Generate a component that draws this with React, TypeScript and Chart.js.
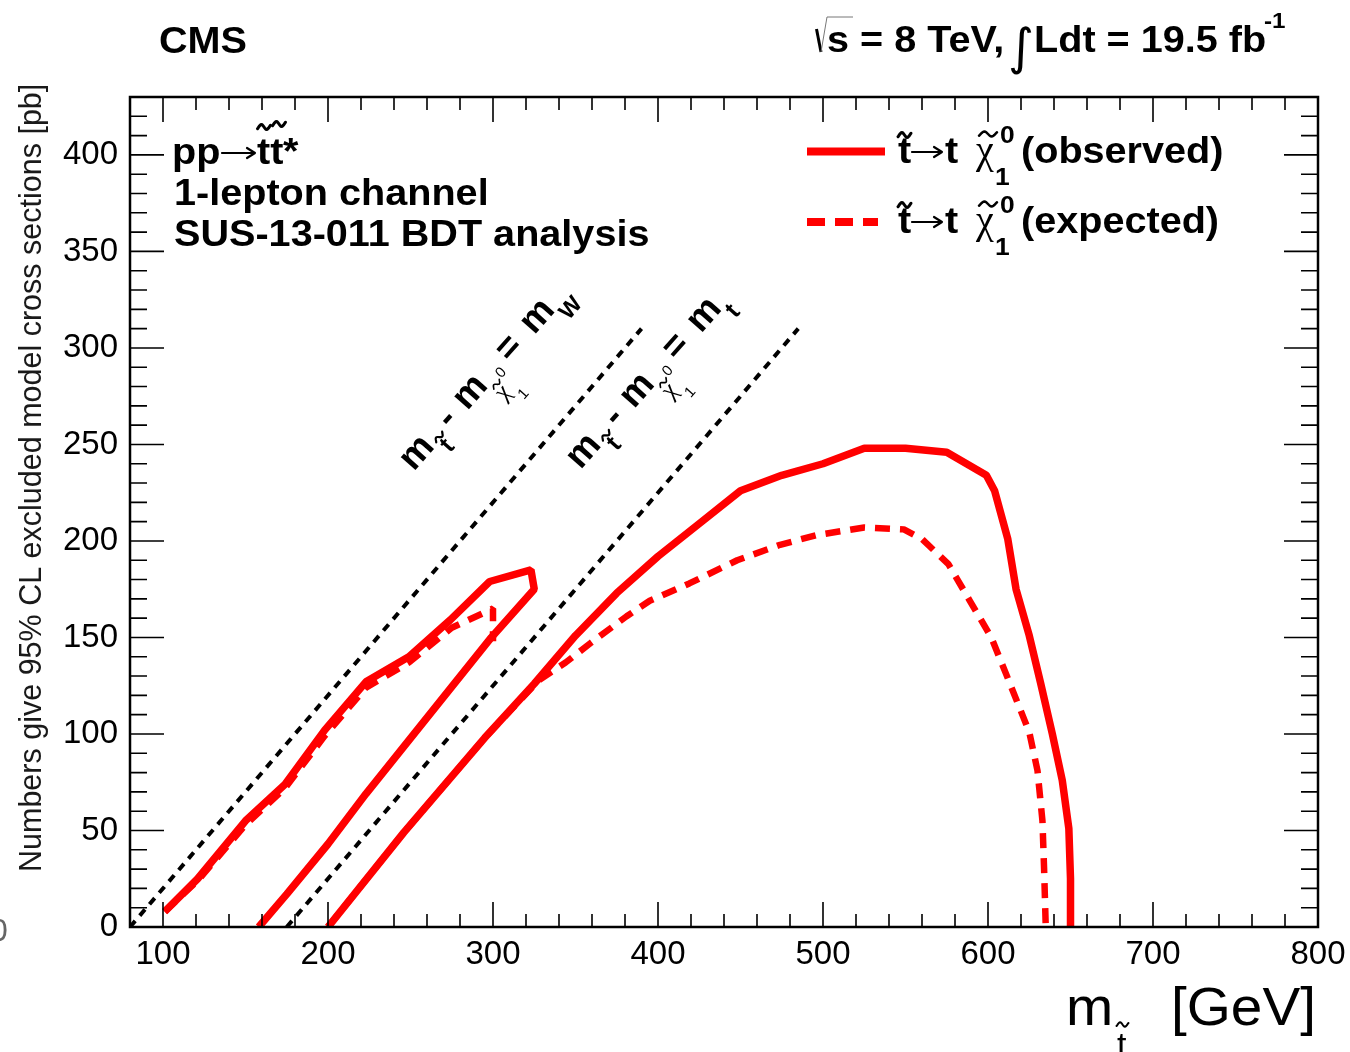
import React, { useEffect, useRef } from 'react';
import { Chart, registerables } from 'chart.js';

Chart.register(...registerables);

// ---------------- data ----------------
const xTickValues = [100, 200, 300, 400, 500, 600, 700, 800];
const yTickValues = [0, 50, 100, 150, 200, 250, 300, 350, 400];
const xRange = [80, 800];
const yRange = [0, 430];
const xMinorStep = 20;
const yMinorStep = 10;

// observed exclusion contour (two pieces)
const obsLeftX = [101, 121, 150, 174, 198, 223, 249, 274, 298, 323, 325, 299, 223, 200, 175, 158];
const obsLeftY = [8, 25, 55, 74, 102, 127, 140, 159, 179, 185, 175, 150, 69, 43, 17, 0];
const obsRightX = [200, 246, 295, 325, 350, 375, 400, 425, 450, 475, 500, 525, 550, 575, 599, 604, 612, 617, 625, 632, 639, 645, 649, 650, 650];
const obsRightY = [0, 49, 98, 126, 151, 173, 192, 209, 226, 234, 240, 248, 248, 246, 234, 226, 201, 175, 151, 126, 100, 76, 51, 25, 0];

// expected exclusion contour (two pieces)
const expLeftX = [101, 121, 150, 174, 198, 223, 249, 275, 300, 300];
const expLeftY = [8, 24, 53, 72, 99, 124, 137, 155, 165, 148];
const expRightX = [200, 246, 295, 328, 344, 359, 381, 395, 419, 448, 474, 496, 525, 549, 560, 576, 589, 602, 611, 618, 625, 630, 633, 634, 635];
const expRightY = [0, 49, 98, 128, 137, 147, 161, 169, 178, 190, 198, 203, 207, 206, 201, 188, 169, 150, 131, 116, 101, 81, 55, 30, 0];

// kinematic boundary lines
const mWLineX = [80, 390];
const mWLineY = [0, 310];
const mTopLineX = [175, 485];
const mTopLineY = [0, 310];

const RED = '#ff0000';
const SANS = '"Liberation Sans", Arial, Helvetica, sans-serif';
const SERIF = '"Liberation Serif", "Times New Roman", serif';
const DEJAVU = '"DejaVu Sans", sans-serif';
const SX = 1.1;

const toPoints = (xs: number[], ys: number[]) => xs.map((x, i) => ({ x, y: ys[i] }));

type Piece = { t: string; x: number; y: number; size: number; bold?: boolean; fam?: string; sx?: number; color?: string };

function drawPiece(ctx: CanvasRenderingContext2D, p: Piece) {
  ctx.save();
  ctx.translate(p.x, p.y);
  ctx.scale(p.sx ?? 1, 1);
  ctx.font = `${p.bold ? 'bold ' : ''}${p.size}px ${p.fam ?? SANS}`;
  ctx.fillStyle = p.color ?? '#000';
  ctx.textBaseline = 'alphabetic';
  ctx.textAlign = 'left';
  ctx.fillText(p.t, 0, 0);
  ctx.restore();
}

function drawTilde(ctx: CanvasRenderingContext2D, cx: number, cy: number, w: number, a: number, lw: number) {
  ctx.save();
  ctx.beginPath();
  const n = 20;
  for (let i = 0; i <= n; i++) {
    const t = -0.12 + (1.24 * i) / n;
    const px = cx - w / 2 + w * (i / n);
    const py = cy - a * Math.sin(2 * Math.PI * t);
    if (i === 0) ctx.moveTo(px, py);
    else ctx.lineTo(px, py);
  }
  ctx.strokeStyle = '#000';
  ctx.lineWidth = lw;
  ctx.lineCap = 'round';
  ctx.stroke();
  ctx.restore();
}

function drawArrow(ctx: CanvasRenderingContext2D, x1: number, x2: number, y: number) {
  ctx.save();
  ctx.strokeStyle = '#000';
  ctx.lineWidth = 2.2;
  ctx.lineCap = 'round';
  ctx.lineJoin = 'round';
  ctx.beginPath();
  ctx.moveTo(x1, y);
  ctx.lineTo(x2, y);
  ctx.moveTo(x2 - 8, y - 5);
  ctx.lineTo(x2, y);
  ctx.lineTo(x2 - 8, y + 5);
  ctx.stroke();
  ctx.restore();
}

const framePlugin = {
  id: 'rootFrame',
  afterDatasetsDraw(chart: any) {
    const { ctx, chartArea, scales } = chart;
    const { left, right, top, bottom } = chartArea;
    const xs = scales.x;
    const ys = scales.y;
    ctx.save();
    ctx.strokeStyle = '#000';
    ctx.lineWidth = 1.6;
    for (let v = xRange[0]; v <= xRange[1]; v += xMinorStep) {
      if (v === xRange[0] || v === xRange[1]) continue;
      const px = xs.getPixelForValue(v);
      const len = v % 100 === 0 ? 25 : 13;
      ctx.beginPath();
      ctx.moveTo(px, bottom);
      ctx.lineTo(px, bottom - len);
      ctx.moveTo(px, top);
      ctx.lineTo(px, top + len);
      ctx.stroke();
    }
    for (let v = yRange[0]; v <= yRange[1]; v += yMinorStep) {
      if (v === yRange[0] || v === yRange[1]) continue;
      const py = ys.getPixelForValue(v);
      const len = v % 50 === 0 ? 34 : 17;
      ctx.beginPath();
      ctx.moveTo(left, py);
      ctx.lineTo(left + len, py);
      ctx.moveTo(right, py);
      ctx.lineTo(right - len, py);
      ctx.stroke();
    }
    ctx.lineWidth = 2.5;
    ctx.strokeRect(left, top, right - left, bottom - top);
    ctx.restore();
  },
};

function drawRotLabel(ctx: CanvasRenderingContext2D, ox: number, oy: number, ang: number, last: string, lastSize: number) {
  ctx.save();
  ctx.translate(ox, oy);
  ctx.rotate(ang);
  const pieces: Piece[] = [
    { t: 'm', x: 0, y: 0, size: 37, bold: true },
    { t: 't', x: 38, y: 15, size: 25, bold: true },
    { t: '-', x: 56, y: 0, size: 37, bold: true },
    { t: 'm', x: 81, y: 0, size: 37, bold: true },
    { t: 'χ', x: 113, y: 21, size: 25, fam: SERIF },
    { t: '0', x: 128, y: 4, size: 15 },
    { t: '1', x: 127, y: 35, size: 15 },
    { t: '=', x: 145, y: 0, size: 37, bold: true },
    { t: 'm', x: 182, y: 0, size: 37, bold: true },
    { t: last, x: 216, y: 16, size: lastSize, bold: true },
  ];
  pieces.forEach((p) => drawPiece(ctx, p));
  drawTilde(ctx, 43, -4, 12, 2, 2.2);
  drawTilde(ctx, 120.5, 4, 11, 1.8, 1.6);
  ctx.restore();
}

const textPlugin = {
  id: 'rootTexts',
  afterDraw(chart: any) {
    const ctx: CanvasRenderingContext2D = chart.ctx;
    ctx.save();
    // header
    drawPiece(ctx, { t: 'CMS', x: 159, y: 53, size: 36, bold: true, sx: SX });
    // radical sign
    ctx.save();
    ctx.strokeStyle = '#000';
    ctx.lineCap = 'butt';
    ctx.lineWidth = 3;
    ctx.beginPath();
    ctx.moveTo(816.5, 29);
    ctx.lineTo(821, 52);
    ctx.stroke();
    ctx.lineWidth = 1;
    ctx.strokeStyle = '#777';
    ctx.beginPath();
    ctx.moveTo(821, 52);
    ctx.lineTo(827, 17);
    ctx.lineTo(853, 17);
    ctx.stroke();
    ctx.restore();
    drawPiece(ctx, { t: 's = 8 TeV,', x: 827, y: 52, size: 36, bold: true, sx: SX });
    drawPiece(ctx, { t: '∫', x: 1008, y: 64, size: 50, fam: DEJAVU });
    drawPiece(ctx, { t: 'Ldt = 19.5 fb', x: 1034, y: 52, size: 36, bold: true, sx: SX });
    drawPiece(ctx, { t: '-1', x: 1264, y: 28, size: 22, bold: true, sx: SX });

    // process text
    drawPiece(ctx, { t: 'pp', x: 172, y: 164, size: 36, bold: true, sx: SX });
    drawArrow(ctx, 222, 255, 153);
    drawPiece(ctx, { t: 'tt', x: 257, y: 164, size: 36, bold: true, sx: SX });
    drawPiece(ctx, { t: '*', x: 283, y: 164, size: 36, bold: true, sx: SX });
    drawTilde(ctx, 264, 127, 13, 2.5, 3);
    drawTilde(ctx, 279, 124, 13, 2.5, 3);
    drawPiece(ctx, { t: '1-lepton channel', x: 174, y: 205, size: 36, bold: true, sx: SX });
    drawPiece(ctx, { t: 'SUS-13-011 BDT analysis', x: 174, y: 246, size: 36, bold: true, sx: SX });

    // legend
    ctx.save();
    ctx.strokeStyle = RED;
    ctx.lineWidth = 8;
    ctx.lineCap = 'butt';
    ctx.beginPath();
    ctx.moveTo(807, 151.5);
    ctx.lineTo(885, 151.5);
    ctx.stroke();
    ctx.setLineDash([18, 10]);
    ctx.beginPath();
    ctx.moveTo(807, 222);
    ctx.lineTo(878, 222);
    ctx.stroke();
    ctx.restore();
    const rows: [number, string][] = [
      [163, '(observed)'],
      [233, '(expected)'],
    ];
    rows.forEach(([b, lab]) => {
      drawPiece(ctx, { t: 't', x: 898, y: b, size: 36, bold: true, sx: SX });
      drawTilde(ctx, 904.5, b - 28, 13, 2.5, 3);
      drawArrow(ctx, 912, 942, b - 11);
      drawPiece(ctx, { t: 't', x: 945, y: b, size: 36, bold: true, sx: SX });
      drawPiece(ctx, { t: 'χ', x: 976, y: b, size: 40, fam: SERIF });
      drawTilde(ctx, 988, b - 29, 18, 2.5, 2.5);
      drawPiece(ctx, { t: '0', x: 1000, y: b - 20, size: 24, bold: true, sx: SX });
      drawPiece(ctx, { t: '1', x: 995, y: b + 22, size: 24, bold: true, sx: SX });
      drawPiece(ctx, { t: lab, x: 1021, y: b, size: 36, bold: true, sx: SX });
    });

    // rotated kinematic-line labels
    const ang = (-48.5 * Math.PI) / 180;
    drawRotLabel(ctx, 413.7, 471.9, ang, 'W', 23);
    drawRotLabel(ctx, 580.4, 470.2, ang, 't', 25);

    // x title
    drawPiece(ctx, { t: 'm', x: 1066, y: 1025, size: 54, sx: 1.05 });
    drawPiece(ctx, { t: 't', x: 1117, y: 1056, size: 34 });
    drawTilde(ctx, 1122.5, 1024.5, 12, 2.2, 2);
    drawPiece(ctx, { t: '[GeV]', x: 1171, y: 1025, size: 54, sx: 1.05 });

    // y title
    ctx.save();
    ctx.translate(41, 872);
    ctx.rotate(-Math.PI / 2);
    ctx.font = `30.5px ${SANS}`;
    ctx.fillStyle = '#1a1a1a';
    ctx.textBaseline = 'alphabetic';
    ctx.fillText('Numbers give 95% CL excluded model cross sections [pb]', 0, 0);
    ctx.restore();

    // stray clipped glyph at the left edge
    drawPiece(ctx, { t: '0', x: -10, y: 941, size: 32, color: '#666' });
    ctx.restore();
  },
};

export default function App() {
  const ref = useRef<HTMLCanvasElement>(null);
  useEffect(() => {
    const canvas = ref.current;
    if (!canvas) return;
    const lineBase = { showLine: true, pointRadius: 0, pointHoverRadius: 0, fill: false, borderJoinStyle: 'bevel', borderCapStyle: 'butt' };
    const chart = new Chart(canvas, {
      type: 'scatter',
      data: {
        datasets: [
          { ...lineBase, label: 'observed', data: toPoints(obsLeftX, obsLeftY), borderColor: RED, borderWidth: 7.5, order: 0 },
          { ...lineBase, label: 'observed', data: toPoints(obsRightX, obsRightY), borderColor: RED, borderWidth: 7.5, order: 0 },
          { ...lineBase, label: 'expected', data: toPoints(expLeftX, expLeftY), borderColor: RED, borderWidth: 6.5, borderDash: [15, 10], order: 1 },
          { ...lineBase, label: 'expected', data: toPoints(expRightX, expRightY), borderColor: RED, borderWidth: 6.5, borderDash: [15, 10], order: 1 },
          { ...lineBase, label: 'mW', data: toPoints(mWLineX, mWLineY), borderColor: '#000', borderWidth: 4, borderDash: [8, 7], order: 2 },
          { ...lineBase, label: 'mt', data: toPoints(mTopLineX, mTopLineY), borderColor: '#000', borderWidth: 4, borderDash: [8, 7], order: 2 },
        ] as any,
      },
      options: {
        responsive: false,
        animation: false,
        events: [],
        layout: { padding: { top: 97, right: 32, left: 0, bottom: 0 } },
        plugins: { legend: { display: false }, tooltip: { enabled: false } },
        scales: {
          x: {
            type: 'linear',
            min: xRange[0],
            max: xRange[1],
            afterBuildTicks: (s: any) => {
              s.ticks = xTickValues.map((v) => ({ value: v }));
            },
            afterFit: (s: any) => {
              s.height = 125;
            },
            grid: { display: true, drawOnChartArea: false, drawTicks: true, tickLength: 8, color: 'rgba(0,0,0,0)' },
            border: { display: false },
            ticks: { padding: 0, color: '#000', font: { family: SANS, size: 33 }, maxRotation: 0, autoSkip: false },
          },
          y: {
            type: 'linear',
            min: yRange[0],
            max: yRange[1],
            afterBuildTicks: (s: any) => {
              s.ticks = yTickValues.map((v) => ({ value: v }));
            },
            afterFit: (s: any) => {
              s.width = 130;
            },
            grid: { display: true, drawOnChartArea: false, drawTicks: true, tickLength: 12, color: 'rgba(0,0,0,0)' },
            border: { display: false },
            ticks: { padding: 0, color: '#000', font: { family: SANS, size: 33 }, autoSkip: false },
          },
        },
      } as any,
      plugins: [framePlugin, textPlugin],
    });
    return () => chart.destroy();
  }, []);
  return (
    <div style={{ position: 'fixed', left: 0, top: 0, width: 1350, height: 1052, background: '#fff', overflow: 'hidden' }}>
      <canvas ref={ref} width={1350} height={1052} style={{ display: 'block', width: 1350, height: 1052 }} />
    </div>
  );
}
